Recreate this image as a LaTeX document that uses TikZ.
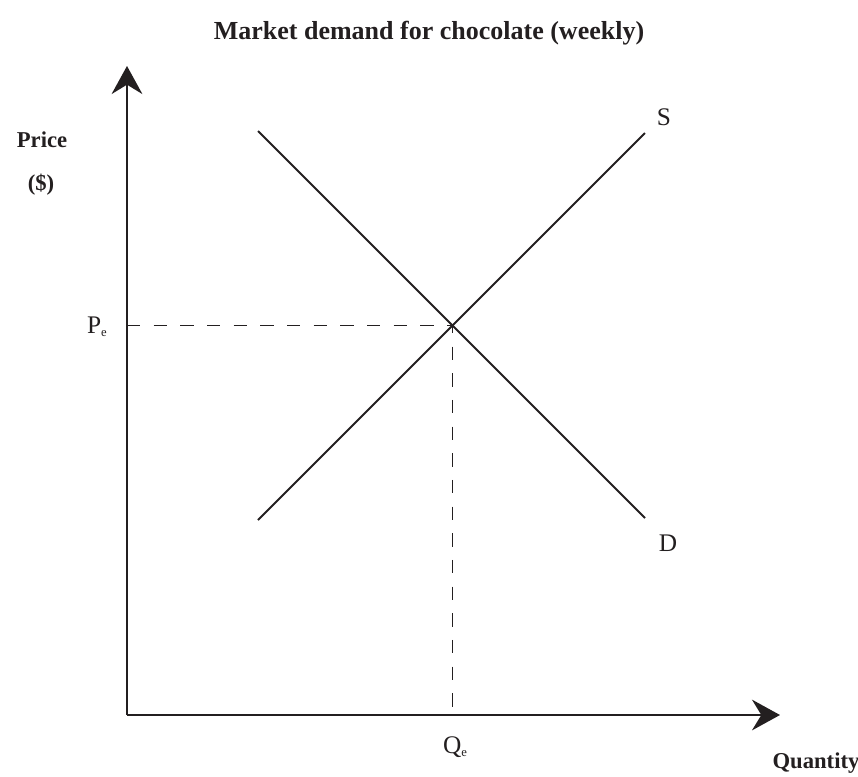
\documentclass[tikz,border=0pt]{standalone}
\usepackage{fontspec}
\setmainfont{Liberation Serif}
\usetikzlibrary{arrows.meta,positioning,calc}
\definecolor{ink}{HTML}{231F20}
\newcommand{\eqsub}{\raisebox{-0.25ex}{\fontsize{9.5}{9.5}\selectfont e}}

\begin{document}
\begin{tikzpicture}[x=0.75pt, y=-0.75pt,
    axis/.style={-{Stealth[length=21pt, width=23pt, inset=7pt]}, line width=1.8pt, color=ink},
    curve/.style={line width=1.5pt, color=ink},
    guide/.style={line width=0.9pt, color=ink, dash pattern=on 10pt off 10pt},
    lbl/.style={font=\fontsize{19}{22}\selectfont, text=ink, inner sep=0pt},
    axlbl/.style={font=\fontsize{17}{20}\selectfont\bfseries, text=ink, inner sep=0pt, align=center}
]
\useasboundingbox (0,0) rectangle (858,776);
\coordinate (origin) at (127,715);
\coordinate (ytip) at (127,66);
\coordinate (xtip) at (780,715);
\coordinate (s1) at (258,520);
\coordinate (s2) at (645,133);
\coordinate (d1) at (258,131);
\coordinate (d2) at (645,518);
\coordinate (eq) at (intersection of s1--s2 and d1--d2);
\coordinate (pe) at (origin |- eq);
\coordinate (qe) at (eq |- origin);

\node[axlbl, font=\fontsize{19.5}{23}\selectfont\bfseries] (title) at (429,33) {Market demand for chocolate (weekly)};
\node[axlbl] (price) at (42,140) {Price};
\node[axlbl] (dollar) at (41,185) {(\$)};
\node[axlbl] (quantity) at (816,763) {Quantity};
\node[lbl] (slabel) at (664,117) {S};
\node[lbl] (dlabel) at (668,543) {D};
\node[lbl] (plabel) at (97,327) {P\eqsub};
\node[lbl] (qlabel) at (455,747) {Q\eqsub};

\draw[axis] (origin) -- (ytip);
\draw[axis] (origin) -- (xtip);
\draw[curve] (s1) -- (s2);
\draw[curve] (d1) -- (d2);
\draw[guide] (pe) -- (eq) -- (qe);
\end{tikzpicture}
\end{document}
